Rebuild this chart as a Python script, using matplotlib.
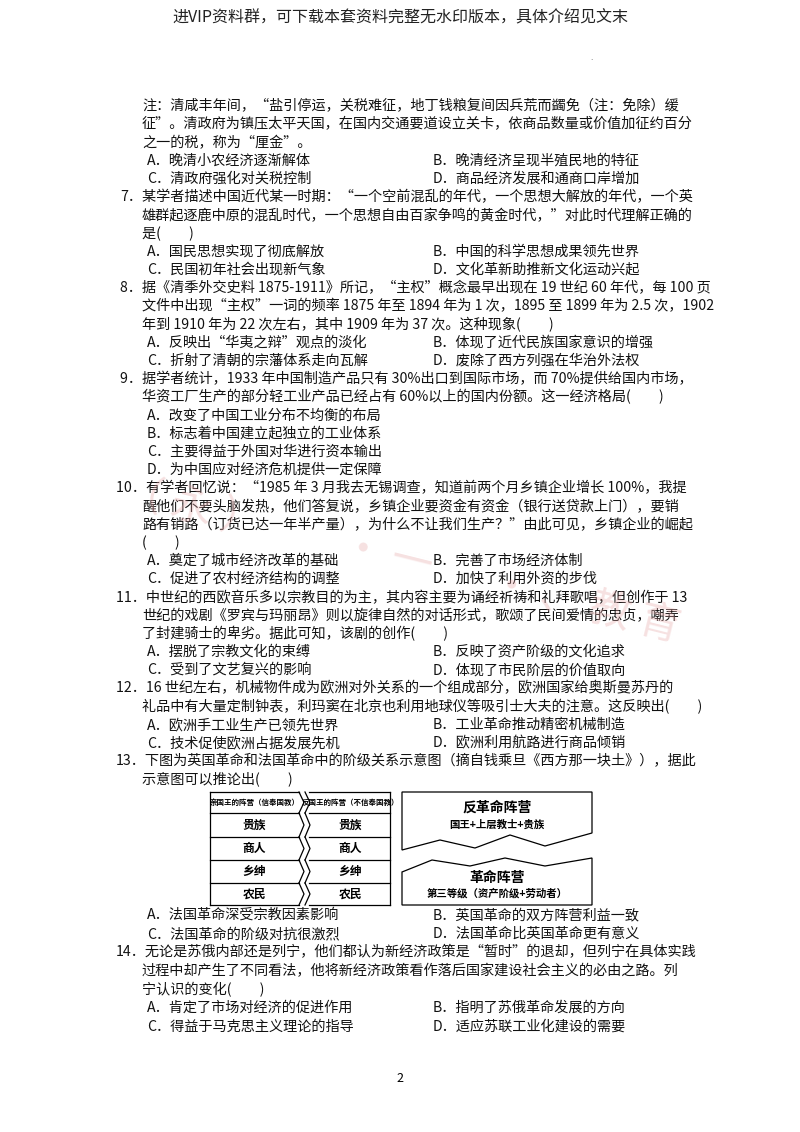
import matplotlib
matplotlib.use("Agg")
import matplotlib.pyplot as plt
from matplotlib.patches import Polygon

plt.rcParams['font.family'] = ['Noto Sans CJK SC', 'DejaVu Sans']
FS = 10.2

header = "进VIP资料群，可下载本套资料完整无水印版本，具体介绍见文末"

# (y, x, text)
lines = [
    (106, 142, "注：清咸丰年间，“盐引停运，关税难征，地丁钱粮复间因兵荒而蠲免（注：免除）缓"),
    (124, 142, "征”。清政府为镇压太平天国，在国内交通要道设立关卡，依商品数量或价值加征约百分"),
    (143, 142, "之一的税，称为“厘金”。"),
    (197, 120, "7．某学者描述中国近代某一时期：“一个空前混乱的年代，一个思想大解放的年代，一个英"),
    (216, 142, "雄群起逐鹿中原的混乱时代，一个思想自由百家争鸣的黄金时代，”对此时代理解正确的"),
    (234, 142, "是(　　)"),
    (288, 120, "8．据《清季外交史料 1875-1911》所记，“主权”概念最早出现在 19 世纪 60 年代，每 100 页"),
    (306, 142, "文件中出现“主权”一词的频率 1875 年至 1894 年为 1 次，1895 至 1899 年为 2.5 次，1902"),
    (325, 142, "年到 1910 年为 22 次左右，其中 1909 年为 37 次。这种现象(　　)"),
    (379, 120, "9．据学者统计，1933 年中国制造产品只有 30%出口到国际市场，而 70%提供给国内市场，"),
    (397, 142, "华资工厂生产的部分轻工业产品已经占有 60%以上的国内份额。这一经济格局(　　)"),
    (416, 147, "A．改变了中国工业分布不均衡的布局"),
    (434, 147, "B．标志着中国建立起独立的工业体系"),
    (452, 147, "C．主要得益于外国对华进行资本输出"),
    (470, 147, "D．为中国应对经济危机提供一定保障"),
    (488, 116, "10．有学者回忆说：“1985 年 3 月我去无锡调查，知道前两个月乡镇企业增长 100%，我提"),
    (507, 142, "醒他们不要头脑发热，他们答复说，乡镇企业要资金有资金（银行送贷款上门），要销"),
    (525, 142, "路有销路（订货已达一年半产量），为什么不让我们生产？”由此可见，乡镇企业的崛起"),
    (543, 142, "(　　)"),
    (598, 116, "11．中世纪的西欧音乐多以宗教目的为主，其内容主要为诵经祈祷和礼拜歌唱，但创作于 13"),
    (616, 142, "世纪的戏剧《罗宾与玛丽昂》则以旋律自然的对话形式，歌颂了民间爱情的忠贞，嘲弄"),
    (634, 142, "了封建骑士的卑劣。据此可知，该剧的创作(　　)"),
    (688, 116, "12．16 世纪左右，机械物件成为欧洲对外关系的一个组成部分，欧洲国家给奥斯曼苏丹的"),
    (707, 142, "礼品中有大量定制钟表，利玛窦在北京也利用地球仪等吸引士大夫的注意。这反映出(　　)"),
    (761, 116, "13．下图为英国革命和法国革命中的阶级关系示意图（摘自钱乘旦《西方那一块土》），据此"),
    (779, 142, "示意图可以推论出(　　)"),
    (952, 116, "14．无论是苏俄内部还是列宁，他们都认为新经济政策是“暂时”的退却，但列宁在具体实践"),
    (971, 142, "过程中却产生了不同看法，他将新经济政策看作落后国家建设社会主义的必由之路。列"),
    (990, 142, "宁认识的变化(　　)"),
]

options = [
    (161, "A．晚清小农经济逐渐解体", "B．晚清经济呈现半殖民地的特征"),
    (179, "C．清政府强化对关税控制", "D．商品经济发展和通商口岸增加"),
    (252, "A．国民思想实现了彻底解放", "B．中国的科学思想成果领先世界"),
    (270, "C．民国初年社会出现新气象", "D．文化革新助推新文化运动兴起"),
    (343, "A．反映出“华夷之辩”观点的淡化", "B．体现了近代民族国家意识的增强"),
    (361, "C．折射了清朝的宗藩体系走向瓦解", "D．废除了西方列强在华治外法权"),
    (561, "A．奠定了城市经济改革的基础", "B．完善了市场经济体制"),
    (579, "C．促进了农村经济结构的调整", "D．加快了利用外资的步伐"),
    (652, "A．摆脱了宗教文化的束缚", "B．反映了资产阶级的文化追求"),
    (670, "C．受到了文艺复兴的影响", "D．体现了市民阶层的价值取向"),
    (725, "A．欧洲手工业生产已领先世界", "B．工业革命推动精密机械制造"),
    (743, "C．技术促使欧洲占据发展先机", "D．欧洲利用航路进行商品倾销"),
    (915, "A．法国革命深受宗教因素影响", "B．英国革命的双方阵营利益一致"),
    (934, "C．法国革命的阶级对抗很激烈", "D．法国革命比英国革命更有意义"),
    (1008, "A．肯定了市场对经济的促进作用", "B．指明了苏俄革命发展的方向"),
    (1027, "C．得益于马克思主义理论的指导", "D．适应苏联工业化建设的需要"),
]

left_col = ["亲国王的阵营（信奉国教）", "贵族", "商人", "乡绅", "农民"]
right_col = ["反国王的阵营（不信奉国教）", "贵族", "商人", "乡绅", "农民"]
top_box = ["反革命阵营", "国王+上层教士+贵族"]
bottom_box = ["革命阵营", "第三等级（资产阶级+劳动者）"]

fig = plt.figure(figsize=(8, 11.32), dpi=100)
ax = fig.add_axes([0, 0, 1, 1])
ax.set_xlim(0, 800)
ax.set_ylim(1132, 0)
ax.axis('off')

ax.text(400, 18, header, ha='center', va='center', fontsize=11.5, color='#222')
ax.text(592, 58, ".", ha='center', va='center', fontsize=6, color='#555')

for y, x, t in lines:
    ax.text(x, y, t, ha='left', va='center', fontsize=FS, color='#111')
for y, a, b in options:
    ax.text(147, y, a, ha='left', va='center', fontsize=FS, color='#111')
    ax.text(433, y, b, ha='left', va='center', fontsize=FS, color='#111')

# faint stamp watermark
ax.text(400, 560, "（ 永 ）　　· 一 　 · 、 教 育", ha='center', va='center', fontsize=30,
        color='#e6a8a8', alpha=0.35, rotation=-14)

# diagram
lw = 0.9
rows_y = [792, 813, 837, 860, 883, 905]
x0, x1, x2, x3 = 210, 299, 305, 390
ax.plot([x0, x0], [rows_y[0], rows_y[-1]], color='k', lw=lw)
ax.plot([x3, x3], [rows_y[0], rows_y[-1]], color='k', lw=lw)
for yy in rows_y:
    ax.plot([x0, x1], [yy, yy], color='k', lw=lw)
    ax.plot([x2 + 4, x3], [yy, yy], color='k', lw=lw)
for i in range(5):
    ya, yb = rows_y[i], rows_y[i + 1]
    ym = (ya + yb) / 2
    ax.plot([x1, x1 + 5, x1], [ya, ym, yb], color='k', lw=lw)
    ax.plot([x2, x2 + 5, x2], [ya, ym, yb], color='k', lw=lw)
for i in range(5):
    ym = (rows_y[i] + rows_y[i + 1]) / 2
    fs = 5.4 if i == 0 else 8.5
    ax.text((x0 + x1) / 2, ym, left_col[i], ha='center', va='center', fontsize=fs, weight='bold')
    ax.text((x2 + x3) / 2 + 3, ym, right_col[i], ha='center', va='center', fontsize=fs, weight='bold')

# right boxes with zigzag
bx0, bx1 = 402, 592
zig_top = [(402, 850), (440, 840), (475, 848), (510, 835), (545, 846), (592, 833)]
poly1 = [(bx0, 792), (bx1, 792)] + zig_top[::-1]
ax.add_patch(Polygon(poly1, closed=True, fill=False, lw=lw, ec='k'))
zig_bot = [(402, 872), (432, 860), (470, 866), (505, 858), (545, 866), (592, 858)]
poly2 = zig_bot + [(bx1, 905), (bx0, 905)]
ax.add_patch(Polygon(poly2, closed=True, fill=False, lw=lw, ec='k'))
ax.text(497, 808, top_box[0], ha='center', va='center', fontsize=10, weight='bold')
ax.text(497, 825, top_box[1], ha='center', va='center', fontsize=7.5, weight='bold')
ax.text(497, 878, bottom_box[0], ha='center', va='center', fontsize=10, weight='bold')
ax.text(497, 893, bottom_box[1], ha='center', va='center', fontsize=7.5, weight='bold')

ax.text(400, 1078, "2", ha='center', va='center', fontsize=9)

fig.savefig("out.png", dpi=100, facecolor='white')
